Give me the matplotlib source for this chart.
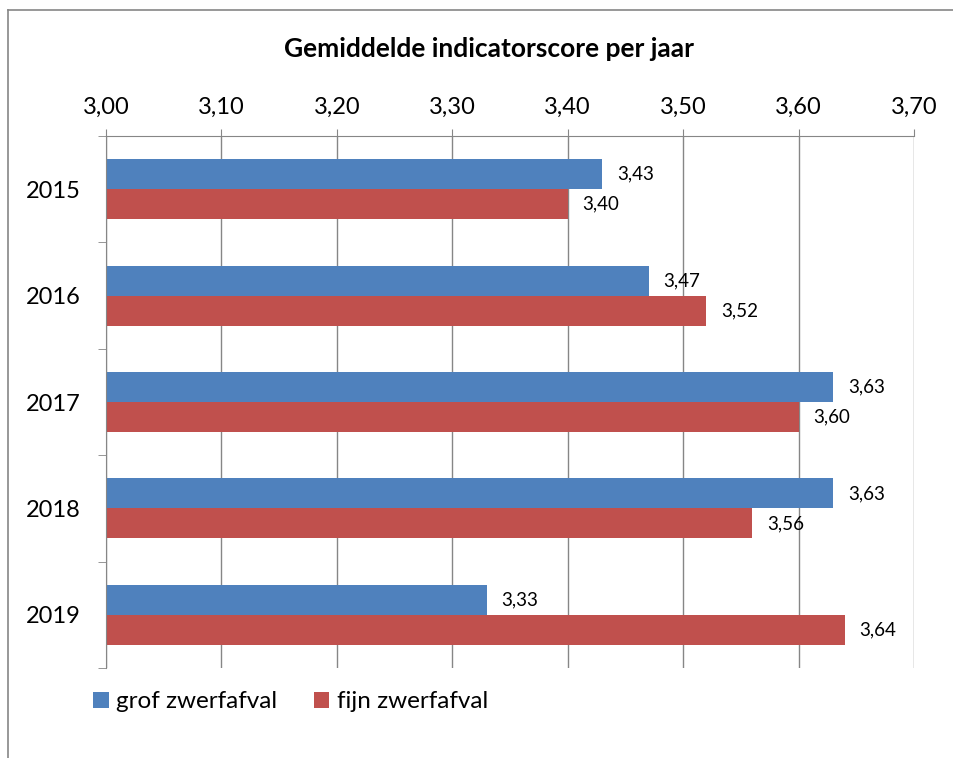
import numpy as np
import matplotlib.pyplot as plt
from matplotlib.ticker import FuncFormatter, FixedLocator
from matplotlib.lines import Line2D

plt.rcParams['font.family'] = ['Lato', 'DejaVu Sans']

years = ['2015', '2016', '2017', '2018', '2019']
grof = [3.43, 3.47, 3.63, 3.63, 3.33]
fijn = [3.40, 3.52, 3.60, 3.56, 3.64]
xticks = [3.00, 3.10, 3.20, 3.30, 3.40, 3.50, 3.60, 3.70]

blue = '#4F81BD'
red = '#C0504D'
gray = '#868686'

fig = plt.figure(figsize=(9.54, 7.58), dpi=100)
W, H = 954, 758
ax = fig.add_axes([106 / W, 1 - 668 / H, (914 - 106) / W, (668 - 136) / H])

y = np.arange(len(years))
h = 0.282
b1 = ax.barh(y - h / 2, grof, height=h, color=blue, label='grof zwerfafval', zorder=2)
b2 = ax.barh(y + h / 2, fijn, height=h, color=red, label='fijn zwerfafval', zorder=2)

fmt = lambda v: f"{v:.2f}".replace('.', ',')
for vals, off in ((grof, -h / 2), (fijn, h / 2)):
    for i, v in enumerate(vals):
        ax.annotate(fmt(v), (v, i + off), xytext=(10.5, 0), textcoords='offset points',
                    va='center', ha='left', fontsize=13.5, color='black')

ax.set_xlim(3.0, 3.7)
ax.set_ylim(4.5, -0.5)
ax.xaxis.tick_top()
ax.set_xticks(xticks)
ax.xaxis.set_major_formatter(FuncFormatter(lambda v, _: fmt(v)))
ax.tick_params(axis='x', direction='out', length=5, color=gray, labelsize=17, pad=8)
ax.grid(axis='x', color=gray, lw=1, zorder=0)
ax.set_axisbelow(True)

ax.set_yticks(y)
ax.set_yticklabels(years)
ax.tick_params(axis='y', which='major', length=0, labelsize=17, pad=18)
ax.yaxis.set_minor_locator(FixedLocator(np.arange(-0.5, 5, 1)))
ax.tick_params(axis='y', which='minor', length=6, color=gray, direction='out')

for s in ('right', 'bottom'):
    ax.spines[s].set_visible(False)
ax.spines['top'].set_color(gray)
ax.spines['left'].set_color(gray)

fig.text(489 / W, 1 - 49 / H, 'Gemiddelde indicatorscore per jaar', ha='center', va='center',
         fontsize=19, fontweight='bold')

fig.legend(handles=[b1, b2], loc='center left', bbox_to_anchor=(93 / W, 1 - 702 / H),
           ncol=2, frameon=False, fontsize=17.5, handlelength=0.65, handleheight=0.65,
           handletextpad=0.3, columnspacing=1.5, borderpad=0, borderaxespad=0)

# chart frame
fig.add_artist(Line2D([8 / W, 8 / W], [0, 1 - 10 / H], color=gray, lw=1.2))
fig.add_artist(Line2D([8 / W, 1], [1 - 10 / H, 1 - 10 / H], color=gray, lw=1.2))

fig.savefig('out.png', dpi=100)
